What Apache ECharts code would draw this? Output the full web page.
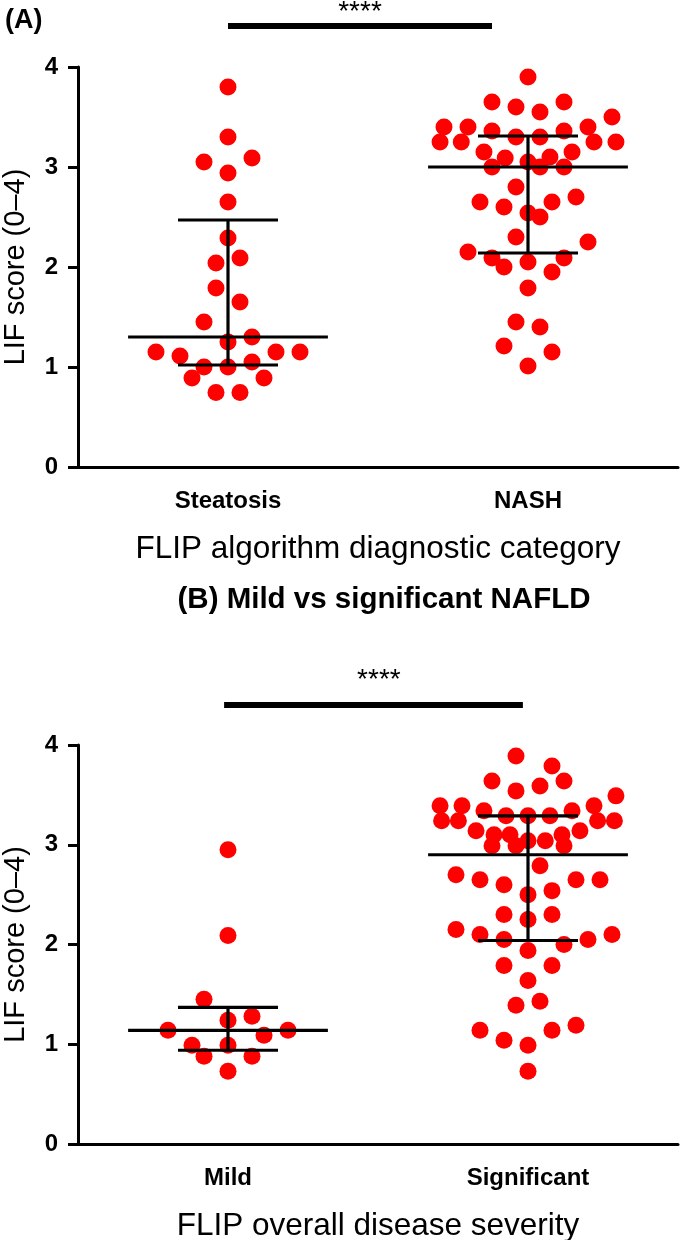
<!DOCTYPE html>
<html>
<head>
<meta charset="utf-8">
<script src="https://cdn.jsdelivr.net/npm/echarts@6/dist/echarts.min.js"></script>
<style>html,body{margin:0;padding:0;background:#fff;}#c{width:680px;height:1240px;}</style>
</head>
<body>
<div id="c"></div>
<script>
// ---------- data ----------
const catsA = ['Steatosis', 'NASH'];
const catsB = ['Mild', 'Significant'];
const panelTitleA = '(A)';
const panelTitleB = '(B) Mild vs significant NAFLD';
const xNameA = 'FLIP algorithm diagnostic category';
const xNameB = 'FLIP overall disease severity';
const yName = 'LIF score (0\u20134)';
const yMin = 0, yMax = 4, yStep = 1;

// values and beeswarm column
const steatosisVals = [3.80,3.30,3.05,3.09,2.94,2.65,2.29,2.04,2.09,1.79,1.65,1.45,1.30,1.25,1.15,1.11,1.15,1.15,1.00,1.00,1.05,0.89,0.89,0.745,0.745];
const steatosisCols = [0,0,-2,2,0,0,0,-1,1,-1,1,-2,2,0,-6,-4,4,6,-2,0,2,-3,3,-1,1];

const nashVals = [3.90,3.65,3.60,3.55,3.65,3.50,3.40,3.40,3.36,3.30,3.30,3.36,3.40,3.25,3.25,3.25,3.25,3.15,3.09,3.05,3.10,3.15,3.00,3.00,3.00,2.80,2.65,2.60,2.65,2.70,2.54,2.50,2.30,2.15,2.25,2.09,2.09,2.00,2.05,1.95,1.79,1.45,1.40,1.21,1.15,1.01];
const nashCols = [0,-3,-1,1,3,7,-7,-5,-3,-1,1,3,5,-7.33,-5.56,5.5,7.33,-3.67,-1.9,0,1.83,3.67,-3,1,3,-1,-4,-2,2,4,0,1,-1,-5,5,-3,3,-2,0,2,0,-1,1,-2,2,0];

const mildVals = [2.95,2.09,1.45,1.28,1.24,1.14,1.14,1.09,0.99,0.99,0.88,0.88,0.73];
const mildCols = [0,0,-2,2,0,-5,5,3,-3,0,-2,2,0];

const sigVals = [3.89,3.79,3.64,3.64,3.54,3.59,3.49,3.39,3.39,3.39,3.34,3.29,3.29,3.29,3.34,3.24,3.24,3.24,3.24,3.14,3.14,3.10,3.10,3.10,3.04,3.04,2.99,2.99,2.99,2.79,2.70,2.65,2.65,2.65,2.60,2.54,2.50,2.30,2.30,2.25,2.15,2.10,2.10,2.05,2.05,2.00,1.94,1.79,1.79,1.64,1.39,1.43,1.14,1.19,1.14,1.04,0.99,0.73];
const sigCols = [-1,2,-3,3,-1,1,7.33,-7.33,-5.5,5.5,-3.67,-1.83,0,1.83,3.67,-7.2,-5.8,5.8,7.2,-4.33,4.33,-2.83,-1.5,2.83,0,1.44,-3,-1,3,1,-6,-4,4,6,-2,2,0,-2,2,0,-6,-4,7,5,-2,3,0,-2,2,0,-1,1,-4,4,2,-2,0,0];

// median and interquartile range per group [median, lower, upper]
const summaryA = [[1.30, 1.02, 2.47], [3.00, 2.14, 3.31]];
const summaryB = [[1.14, 0.94, 1.37], [2.90, 2.04, 3.29]];

// significance annotations: [fromX, toX, barY, starX, starY]
const sigTextA = '****', sigTextB = '****';
const sigA = [0.0, 0.88, 4.41, 0.44, 4.55];
const sigB = [-0.013, 0.983, 4.40, 0.503, 4.65];

// ---------- rendering ----------
const FONT = 'Liberation Sans, Arial, Helvetica, sans-serif';
const COL_STEP = 0.04;      // x-units per beeswarm column
const MED_HALF = 0.333;     // half width of median line (x units)
const CAP_HALF = 0.1667;    // half width of whisker caps
const RED = '#ff0000';

function points(vals, cols, catIdx) {
  return vals.map((v, i) => [catIdx + cols[i] * COL_STEP, v]);
}

function errRender(params, api) {
  const x = api.value(0), m = api.value(1), lo = api.value(2), hi = api.value(3);
  const st = { stroke: '#000', lineWidth: 3.2 };
  const seg = (a, b) => ({ type: 'line', shape: { x1: a[0], y1: a[1], x2: b[0], y2: b[1] }, style: st });
  return {
    type: 'group',
    children: [
      seg(api.coord([x, lo]), api.coord([x, hi])),
      seg(api.coord([x - MED_HALF, m]), api.coord([x + MED_HALF, m])),
      seg(api.coord([x - CAP_HALF, lo]), api.coord([x + CAP_HALF, lo])),
      seg(api.coord([x - CAP_HALF, hi]), api.coord([x + CAP_HALF, hi]))
    ]
  };
}

function sigRender(text) {
  return function (params, api) {
    const a = api.coord([api.value(0), api.value(2)]);
    const b = api.coord([api.value(1), api.value(2)]);
    const s = api.coord([api.value(3), api.value(4)]);
    return {
      type: 'group',
      children: [
        { type: 'line', shape: { x1: a[0], y1: a[1], x2: b[0], y2: b[1] }, style: { stroke: '#000', lineWidth: 6 } },
        { type: 'text', x: s[0], y: s[1], style: { text: text, fill: '#000', font: '28px ' + FONT, align: 'center', verticalAlign: 'middle' } }
      ]
    };
  };
}

function catAxis(grid, cats, name) {
  return {
    type: 'category', gridIndex: grid, data: cats, boundaryGap: true,
    axisLine: { onZero: false, lineStyle: { color: '#000', width: 3 } },
    axisTick: { alignWithLabel: true, length: 10, lineStyle: { color: '#000', width: 3 } },
    axisLabel: { color: '#000', fontFamily: FONT, fontWeight: 'bold', fontSize: 24, margin: 22 },
    name: name, nameLocation: 'middle', nameGap: 66,
    nameTextStyle: { color: '#000', fontFamily: FONT, fontSize: 31.5 },
    splitLine: { show: false }
  };
}
function valXAxis(grid) {
  return { type: 'value', gridIndex: grid, min: -0.5, max: 1.5, show: false, splitLine: { show: false } };
}
function yAxis(grid) {
  return {
    type: 'value', gridIndex: grid, min: yMin, max: yMax, interval: yStep,
    axisLine: { show: true, onZero: false, lineStyle: { color: '#000', width: 3 } },
    axisTick: { show: true, length: 10, lineStyle: { color: '#000', width: 3 } },
    axisLabel: { color: '#000', fontFamily: FONT, fontWeight: 'bold', fontSize: 24, margin: 20 },
    splitLine: { show: false },
    name: yName, nameLocation: 'middle', nameGap: 48,
    nameTextStyle: { color: '#000', fontFamily: FONT, fontSize: 29 }
  };
}
function scatter(xi, yi, data) {
  return { type: 'scatter', xAxisIndex: xi, yAxisIndex: yi, data: data, symbol: 'circle', symbolSize: 17,
    itemStyle: { color: RED, opacity: 1 }, z: 2, silent: true };
}

const chart = echarts.init(document.getElementById('c'), null, { renderer: 'canvas' });
chart.setOption({
  backgroundColor: '#fff',
  animation: false,
  graphic: [
    { type: 'text', x: 5, y: 7, style: { text: panelTitleA, fill: '#000', font: 'bold 27px ' + FONT } },
    { type: 'text', x: 384, y: 600, style: { text: panelTitleB, fill: '#000', font: 'bold 29.5px ' + FONT, align: 'center', verticalAlign: 'middle' } }
  ],
  grid: [
    { left: 78, right: 2, top: 67, height: 400, outerBoundsMode: 'none', containLabel: false },
    { left: 78, right: 2, top: 745, height: 399, outerBoundsMode: 'none', containLabel: false }
  ],
  xAxis: [catAxis(0, catsA, xNameA), valXAxis(0), catAxis(1, catsB, xNameB), valXAxis(1)],
  yAxis: [yAxis(0), yAxis(1)],
  series: [
    scatter(1, 0, points(steatosisVals, steatosisCols, 0)),
    scatter(1, 0, points(nashVals, nashCols, 1)),
    scatter(3, 1, points(mildVals, mildCols, 0)),
    scatter(3, 1, points(sigVals, sigCols, 1)),
    { type: 'custom', xAxisIndex: 1, yAxisIndex: 0, renderItem: errRender, z: 5, silent: true,
      data: summaryA.map((s, i) => [i, s[0], s[1], s[2]]) },
    { type: 'custom', xAxisIndex: 3, yAxisIndex: 1, renderItem: errRender, z: 5, silent: true,
      data: summaryB.map((s, i) => [i, s[0], s[1], s[2]]) },
    { type: 'custom', xAxisIndex: 1, yAxisIndex: 0, renderItem: sigRender(sigTextA), z: 5, silent: true, clip: false,
      data: [sigA] },
    { type: 'custom', xAxisIndex: 3, yAxisIndex: 1, renderItem: sigRender(sigTextB), z: 5, silent: true, clip: false,
      data: [sigB] }
  ]
});
</script>
</body>
</html>
